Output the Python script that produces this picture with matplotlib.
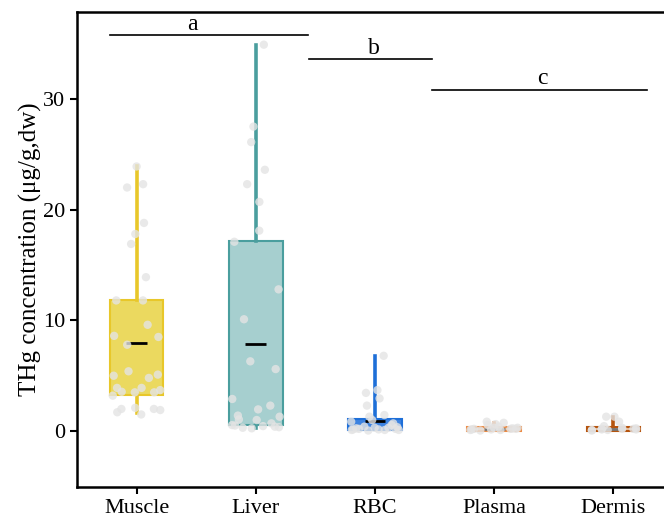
import numpy as np
import matplotlib.pyplot as plt

plt.rcParams['font.family'] = ['Liberation Serif', 'DejaVu Serif']

# tissues and box statistics
tissues = ["Muscle", "Liver", "RBC", "Plasma", "Dermis"]
q1 = [3.25, 0.54, 0.06, 0.02, 0.02]
med = [7.98, 7.9, 0.93, 0.2, 0.2]
q3 = [11.83, 17.2, 1.07, 0.33, 0.33]
whislo = [1.6, 0.3, 0.06, 0.02, 0.02]
whishi = [23.9, 34.9, 6.8, 0.75, 1.3]

muscle_vals = [23.9, 22.3, 22.0, 18.8, 17.8, 16.9, 13.9, 11.8, 11.8, 9.6, 8.6, 8.5,
               7.8, 5.4, 5.1, 5.0, 4.8, 3.9, 3.9, 3.7, 3.55, 3.5, 3.5, 3.2, 2.0,
               2.1, 2.0, 1.9, 1.7, 1.5]
liver_vals = [34.9, 27.5, 26.1, 23.6, 22.3, 20.7, 18.1, 17.1, 12.8, 10.1, 6.3, 5.6,
              2.9, 2.3, 1.96, 1.4, 1.3, 1.05, 1.0, 0.7, 0.54, 0.4, 0.25, 0.3, 0.35,
              0.5, 0.45]
rbc_vals = [6.8, 3.45, 2.95, 3.7, 2.3, 1.45, 1.3, 1.0, 0.7, 0.85, 0.55, 0.3, 0.2,
            0.1, 0.25, 0.15, 0.3, 0.1, 0.2, 0.05, 0.4, 0.35, 0.15, 0.1]
plasma_vals = [0.63, 0.85, 0.75, 0.55, 0.3, 0.2, 0.1, 0.25, 0.15, 0.05, 0.3, 0.2,
               0.1, 0.4, 0.15, 0.2]
dermis_vals = [1.3, 1.3, 0.85, 0.45, 0.2, 0.1, 0.15, 0.25, 0.05, 0.3, 0.2, 0.1,
               0.15, 0.2]
all_vals = [muscle_vals, liver_vals, rbc_vals, plasma_vals, dermis_vals]

face_colors = ["#EBD95F", "#A6CFCF", "#3C82E0", "#F0C8A4", "#E8C0A0"]
edge_colors = ["#E8C72A", "#4A9E9E", "#1E6FD8", "#EB8C46", "#B5540E"]
med_colors = ["black", "black", "black", "#777777", "#777777"]

# significance groups
sig_labels = ["a", "b", "c"]
sig_x0 = [-0.226, 1.45, 2.48]
sig_x1 = [1.44, 2.48, 4.28]
sig_y = [35.77, 33.6, 30.8]
sig_tx = [0.47, 1.99, 3.40]
sig_ty = [36.25, 34.1, 31.35]

fig = plt.figure(figsize=(6.64, 5.19), dpi=100)
ax = fig.add_axes([77 / 664, 32 / 519, 596 / 664, 475 / 519])

for i in range(len(tissues)):
    stats = [dict(med=med[i], q1=q1[i], q3=q3[i], whislo=whislo[i],
                  whishi=whishi[i], fliers=[])]
    bp = ax.bxp(stats, positions=[i], widths=0.45, patch_artist=True,
                showcaps=False, showfliers=False,
                boxprops=dict(facecolor=face_colors[i], edgecolor=edge_colors[i],
                              linewidth=1.5),
                whiskerprops=dict(color=edge_colors[i], linewidth=2.6),
                medianprops=dict(color=med_colors[i], linewidth=2,
                                 solid_capstyle="butt"))
    # shorten median line
    bp["medians"][0].set_xdata([i - 0.087, i + 0.087])
    vals = np.array(all_vals[i])
    spread = np.where(vals > q3[i], 0.08, 0.2)
    jitter = spread * np.sin(np.arange(len(vals)) * 2.39 + i)
    ax.scatter(i + jitter, vals, s=36, color="#E4E4E4", alpha=0.8,
               edgecolors="none", zorder=5)

for lab, x0, x1, y, tx, ty in zip(sig_labels, sig_x0, sig_x1, sig_y, sig_tx, sig_ty):
    ax.plot([x0, x1], [y, y], color="black", linewidth=1.2)
    ax.text(tx, ty, lab, ha="center", va="baseline", fontsize=17)

ax.set_xlim(-0.5, 4.5)
ax.set_ylim(-5.05, 37.85)
ax.set_xticks(range(len(tissues)))
ax.set_xticklabels(tissues)
ax.set_yticks([0, 10, 20, 30])
ax.set_ylabel("THg concentration (μg/g,dw)", fontsize=18, labelpad=1)
ax.tick_params(labelsize=16, width=1.5, length=5)
for sp in ax.spines.values():
    sp.set_linewidth(1.8)

fig.savefig("out.png", dpi=100)
